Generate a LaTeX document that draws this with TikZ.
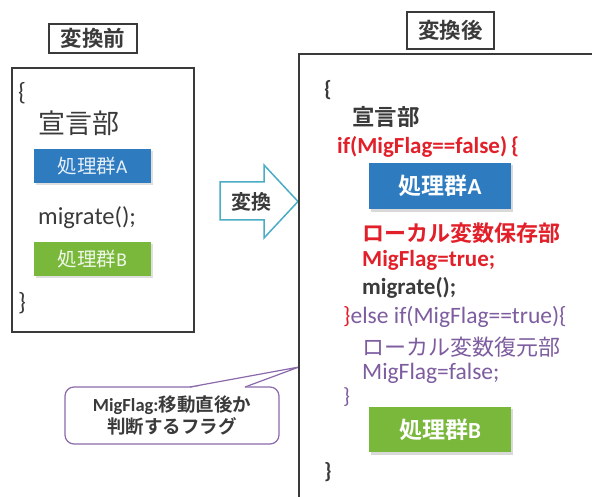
\documentclass[tikz,border=0pt]{standalone}
\usepackage{fontspec}
\setmainfont{Carlito}
\newfontfamily\jpfont{Noto Sans CJK JP}[BoldFont={Noto Sans CJK JP Bold}]
\newcommand\ja[1]{{\jpfont #1}}
\newcommand\fs[1]{\fontsize{#1}{#1}\selectfont}
\definecolor{dark}{HTML}{3A3A3A}
\definecolor{boxblue}{HTML}{2E7BC0}
\definecolor{boxgreen}{HTML}{7AB83C}
\definecolor{codered}{HTML}{E2202A}
\definecolor{codepurple}{HTML}{7D5C9F}
\definecolor{arrowteal}{HTML}{4BACC6}
\definecolor{callpurple}{HTML}{8A6AAA}
\begin{document}
\begin{tikzpicture}[x=1pt,y=-1pt,
  titlebox/.style={draw=dark, line width=1.2pt, fill=white, inner sep=0pt, text=dark, font=\fs{21.5}\bfseries},
  frame/.style={draw=dark, line width=1.6pt, inner sep=0pt},
  code/.style={anchor=west, inner sep=0pt, text=dark},
  leftA/.style={fill=boxblue, inner sep=0pt, minimum width=117pt, minimum height=34pt, text=white!88!boxblue, font=\fs{19.5}},
  leftB/.style={fill=boxgreen, inner sep=0pt, minimum width=117pt, minimum height=34pt, text=white!88!boxgreen, font=\fs{19.5}},
  rightA/.style={fill=boxblue, inner sep=0pt, minimum width=142pt, minimum height=46pt, text=white, font=\fs{23}\bfseries},
  rightB/.style={fill=boxgreen, inner sep=0pt, minimum width=142pt, minimum height=45pt, text=white, font=\fs{23}\bfseries},
  callbox/.style={draw=callpurple, line width=1.2pt, fill=white, rounded corners=9pt, inner sep=0pt, minimum width=214pt, minimum height=57pt, align=center, text=dark, font=\fs{18.5}\bfseries},
  bigarrow/.style={draw=arrowteal, line width=1.5pt, fill=white, line join=miter}
]
\useasboundingbox (0,0) rectangle (592,497);
\fill[white] (0,0) rectangle (592,497);
\clip (0,0) rectangle (592,497);

% ---------- left (before) ----------
\node[titlebox, minimum width=88pt, minimum height=29pt] (tbefore) at (93,38.5) {\ja{変換前}};
\node[frame, minimum width=182pt, minimum height=264pt] (before) at (103,200) {};
\node[code, font=\fs{25}] (lb1) at (18,93) {\{};
\node[code, font=\fs{27}] (ldecl) at (38,123) {\ja{宣言部}};
\fill[gray!25] (36,151) rectangle (153,185.5);
\node[leftA] (lA) at (92.5,166) {\ja{処理群}A};
\node[code, font=\fs{24.5}] (lmig) at (38,218) {migrate();};
\fill[gray!25] (36,244) rectangle (153,278.5);
\node[leftB] (lB) at (92.5,259) {\ja{処理群}B};
\node[code, font=\fs{25}] (lb2) at (18,303) {\}};

% ---------- arrow ----------
\draw[bigarrow] (220,182) -- (264,182) -- (264,165) -- (298,201.5) -- (264,238) -- (264,220) -- (220,220) -- cycle;
\node[inner sep=0pt, text=dark, font=\fs{20}\bfseries] (conv) at (251,202) {\ja{変換}};

% ---------- callout ----------
\node[callbox] (note) at (172,415.5) {MigFlag:\ja{移動直後か}\\[2pt]\ja{判断するフラグ}};
\coordinate (tip) at (299,367);
\coordinate (p1) at (190,387);
\coordinate (p2) at (245,387);
\fill[white] ([xshift=0.8pt,yshift=-0.8pt]p1) -- (tip) -- ([xshift=-0.8pt,yshift=-0.8pt]p2) -- cycle;
\draw[callpurple, line width=1.2pt, line join=round] (p1) -- (tip) -- (p2);

% ---------- right (after) ----------
\node[titlebox, minimum width=87pt, minimum height=37pt] (tafter) at (450.5,30.5) {\ja{変換後}};
\draw[dark, line width=2pt] (299,54) rectangle (620,520);
\coordinate (after) at (299,54);

\node[code, font=\fs{22}\bfseries] (rb1) at (324,90) {\{};
\node[code, font=\fs{22.5}\bfseries] (rdecl) at (352,117) {\ja{宣言部}};
\node[code, font=\fs{23}\bfseries, text=codered] (rif) at (337,147) {if(MigFlag==false)\,\{};
\fill[gray!30] (371,165) rectangle (513,212);
\node[rightA] (rA) at (440,186) {\ja{処理群}A};
\node[code, font=\fs{22}\bfseries, text=codered] (rsave) at (362,233) {\ja{ローカル変数保存部}};
\node[code, font=\fs{23}\bfseries, text=codered] (rtrue) at (362,260) {MigFlag=true;};
\node[code, font=\fs{23}\bfseries] (rmig) at (362,288) {migrate();};
\node[code, font=\fs{23.5}, text=codepurple] (relse) at (343,317) {\textcolor{codered}{\}}else if(MigFlag==true)\{};
\node[code, font=\fs{22}, text=codepurple] (rrest) at (362,347) {\ja{ローカル変数復元部}};
\node[code, font=\fs{23.5}, text=codepurple] (rfalse) at (362,373) {MigFlag=false;};
\node[code, font=\fs{22}, text=codepurple] (rb2) at (343,397) {\}};
\fill[gray!30] (371,409) rectangle (513,455);
\node[rightB] (rB) at (440,429.5) {\ja{処理群}B};
\node[code, font=\fs{22}\bfseries] (rb3) at (324,472) {\}};
\end{tikzpicture}
\end{document}
